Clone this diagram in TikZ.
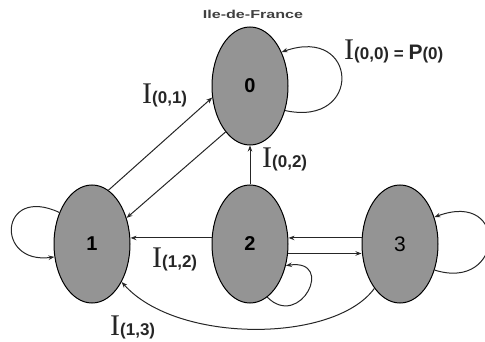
\documentclass[tikz,border=0pt]{standalone}
\usepackage{fontspec}
\setmainfont{Liberation Serif}
\newfontfamily\sansf{Liberation Sans}
\usetikzlibrary{shapes.geometric,arrows.meta}
\definecolor{stategray}{RGB}{148,148,148}
\newcommand\Ibig{\fontsize{30}{30}\selectfont}
\newcommand\Isubf{\sansf\bfseries\fontsize{17}{17}\selectfont}
\begin{document}
\begin{tikzpicture}[x=1pt,y=-1pt,
  state/.style={ellipse,draw=black,line width=1pt,fill=stategray,minimum width=76pt,minimum height=118pt,inner sep=0pt,font=\sansf\bfseries\fontsize{20}{20}\selectfont},
  edge/.style={draw=black!85,line width=1pt,-{Stealth[length=6pt,width=4.5pt]}},
  ilab/.style={inner sep=0pt,anchor=base west,text=black!85}]
\useasboundingbox (0,0) rectangle (485,342);
\node[state] (n0) at (250,86) {0};
\node[state] (n1) at (92,244) {1};
\node[state] (n2) at (250,244) {2};
\node[state,font=\sansf\fontsize{21}{21}\selectfont] (n3) at (400,244) {3};
\node[text=black!75] (idf) at (253,14) {\scalebox{1.4}[1]{\sansf\bfseries\fontsize{11.5}{11.5}\selectfont Ile-de-France}};
% edges
\draw[edge] (n1.73) -- (n0.197);
\draw[edge] (n0.242) -- (n1.37);
\draw[edge] (n2.171) -- (n2.171 -| n1.east);
\draw[edge] (n3.171) -- (n3.171 -| n2.east);
\draw[edge] (n2.-14) -- (n2.-14 -| n3.west);
\draw[edge] (n2.north) -- (n0.south);
\draw[edge] (n3.240) .. controls +(-40,55) and +(55,62) .. (n1.-52);
% loops
\draw[edge] (n0.-35) .. controls +(78,17) and +(77,-27) .. (n0.47);
\draw[edge] (n1.136) .. controls +(-60,-28) and +(-60,8) .. (n1.199);
\draw[edge] (n2.-72) .. controls +(33,33) and +(50,-7) .. (n2.-31);
\draw[edge] (n3.-37) .. controls +(70,22) and +(75,-28) .. (n3.38);
% labels
\node[ilab] (l00) at (344,60) {\Ibig I{\Isubf(0,0) = {\fontsize{21}{21}\selectfont P}(0)}};
\node[ilab] (l01) at (142,104) {\Ibig I{\Isubf(0,1)}};
\node[ilab] (l02) at (262,168) {\Ibig I{\Isubf(0,2)}};
\node[ilab] (l12) at (152,267) {\Ibig I{\Isubf(1,2)}};
\node[ilab] (l13) at (110,335) {\Ibig I{\Isubf(1,3)}};
\end{tikzpicture}
\end{document}
